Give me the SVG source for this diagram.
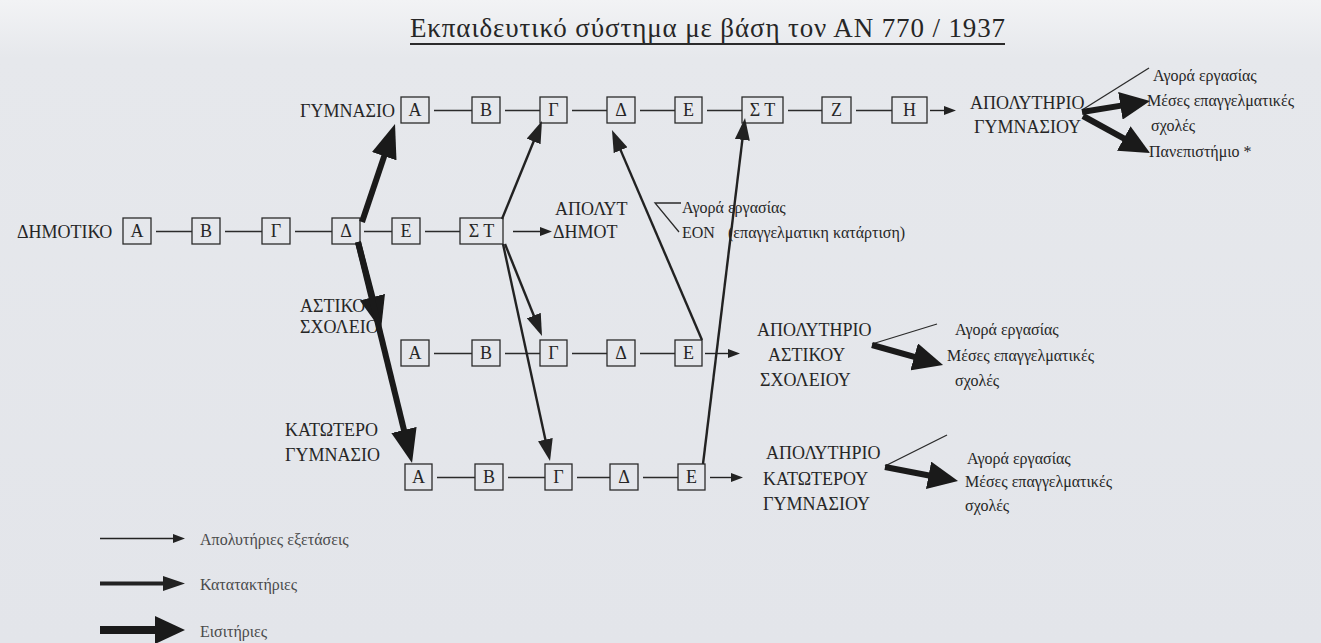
<svg xmlns="http://www.w3.org/2000/svg" width="1321" height="643" viewBox="0 0 1321 643" font-family="Liberation Serif, DejaVu Serif, serif">
<defs>
<style>
text{font-family:"Liberation Serif","DejaVu Serif",serif;fill:#262626}
.lbl{font-size:18px}
.bx{font-size:18px;text-anchor:middle}
.sm{font-size:16px}
.lg{font-size:16px;fill:#4a4a4a}
.title{font-size:27px}
rect.b{fill:none;stroke:#2b2b2b;stroke-width:1.3}
.ln{stroke:#2b2b2b;stroke-width:1.3;fill:none}
.thin{stroke:#222;stroke-width:1.4;fill:none;marker-end:url(#mThin)}
.med{stroke:#222;stroke-width:2.4;fill:none;marker-end:url(#mMed)}
.thick{stroke:#1a1a1a;stroke-width:6;fill:none;marker-end:url(#mThick)}
.fan{stroke:#1a1a1a;stroke-width:6;fill:none;marker-end:url(#mFan)}
</style>
<linearGradient id="bg" x1="0" y1="0" x2="0" y2="1">
<stop offset="0" stop-color="#f2f3f5"/>
<stop offset="0.09" stop-color="#e6e8ec"/>
<stop offset="1" stop-color="#e3e5ea"/>
</linearGradient>
<marker id="mThin" markerUnits="userSpaceOnUse" markerWidth="12" markerHeight="9" refX="6" refY="4.5" orient="auto"><path d="M0,0 L12,4.5 L0,9 z" fill="#222"/></marker>
<marker id="mMed" markerUnits="userSpaceOnUse" markerWidth="22" markerHeight="15" refX="11" refY="7.5" orient="auto"><path d="M0,0 L22,7.5 L0,15 z" fill="#222"/></marker>
<marker id="mThick" markerUnits="userSpaceOnUse" markerWidth="34" markerHeight="26" refX="17" refY="13" orient="auto"><path d="M0,0 L34,13 L0,26 z" fill="#1a1a1a"/></marker>
<marker id="mFan" markerUnits="userSpaceOnUse" markerWidth="30" markerHeight="28" refX="15" refY="14" orient="auto"><path d="M0,0 L30,14 L0,28 z" fill="#1a1a1a"/></marker>
</defs>
<rect width="1321" height="643" fill="url(#bg)"/>

<g id="title">
<text class="title" x="410" y="37" textLength="595" lengthAdjust="spacing">Εκπαιδευτικό σύστημα με βάση τον ΑΝ 770 / 1937</text>
<path class="ln" d="M410,44 H1005" style="stroke-width:2"/>
</g>

<g id="row-gymnasio">
<text class="lbl" x="300" y="117">ΓΥΜΝΑΣΙΟ</text>
<rect class="b" x="401" y="97" width="28" height="26"/><text class="bx" x="415" y="116">Α</text>
<rect class="b" x="472" y="97" width="28" height="26"/><text class="bx" x="486" y="116">Β</text>
<rect class="b" x="540" y="97" width="27" height="26"/><text class="bx" x="553.5" y="116">Γ</text>
<rect class="b" x="607" y="97" width="28" height="26"/><text class="bx" x="621" y="116">Δ</text>
<rect class="b" x="675" y="97" width="27" height="26"/><text class="bx" x="688.5" y="116">Ε</text>
<rect class="b" x="742" y="97" width="41" height="26"/><text class="bx" x="762.5" y="116">Σ Τ</text>
<rect class="b" x="822" y="97" width="29" height="26"/><text class="bx" x="836.5" y="116">Ζ</text>
<rect class="b" x="892" y="97" width="35" height="26"/><text class="bx" x="909.5" y="116">Η</text>
</g>
<g id="apol-gymnasiou">
<text class="lbl" x="970" y="109">ΑΠΟΛΥΤΗΡΙΟ</text>
<text class="lbl" x="974" y="133">ΓΥΜΝΑΣΙΟΥ</text>
<text class="sm" x="1153" y="81">Αγορά εργασίας</text>
<text class="sm" x="1147" y="106">Μέσες επαγγελματικές</text>
<text class="sm" x="1151" y="131">σχολές</text>
<text class="sm" x="1149" y="157">Πανεπιστήμιο *</text>
</g>

<g id="row-dimotiko">
<text class="lbl" x="17" y="238">ΔΗΜΟΤΙΚΟ</text>
<rect class="b" x="123" y="218" width="28" height="26"/><text class="bx" x="137" y="237">Α</text>
<rect class="b" x="192" y="218" width="28" height="26"/><text class="bx" x="206" y="237">Β</text>
<rect class="b" x="262" y="218" width="28" height="26"/><text class="bx" x="276" y="237">Γ</text>
<rect class="b" x="332" y="218" width="28" height="26"/><text class="bx" x="346" y="237">Δ</text>
<rect class="b" x="392" y="218" width="28" height="26"/><text class="bx" x="406" y="237">Ε</text>
<rect class="b" x="460" y="218" width="43" height="26"/><text class="bx" x="481.5" y="237">Σ Τ</text>
</g>
<g id="apol-dimot">
<text class="lbl" x="555" y="215">ΑΠΟΛΥΤ</text>
<text class="lbl" x="553" y="238">ΔΗΜΟΤ</text>
<path class="ln" d="M681,203 L655,203 L679,232"/>
<text class="sm" x="682" y="213">Αγορά εργασίας</text>
<text class="sm" x="682" y="238">ΕΟΝ</text>
<text class="sm" x="728" y="238">(επαγγελματικη κατάρτιση)</text>
</g>

<g id="row-astiko">
<text class="lbl" x="300" y="312">ΑΣΤΙΚΟ</text>
<text class="lbl" x="300" y="333">ΣΧΟΛΕΙΟ</text>
<rect class="b" x="401" y="340" width="28" height="26"/><text class="bx" x="415" y="359">Α</text>
<rect class="b" x="472" y="340" width="28" height="26"/><text class="bx" x="486" y="359">Β</text>
<rect class="b" x="540" y="340" width="27" height="26"/><text class="bx" x="553.5" y="359">Γ</text>
<rect class="b" x="607" y="340" width="28" height="26"/><text class="bx" x="621" y="359">Δ</text>
<rect class="b" x="675" y="340" width="27" height="26"/><text class="bx" x="688.5" y="359">Ε</text>
</g>
<g id="apol-astikou">
<text class="lbl" x="757" y="336">ΑΠΟΛΥΤΗΡΙΟ</text>
<text class="lbl" x="768" y="361">ΑΣΤΙΚΟΥ</text>
<text class="lbl" x="760" y="386">ΣΧΟΛΕΙΟΥ</text>
<text class="sm" x="955" y="335">Αγορά εργασίας</text>
<text class="sm" x="947" y="361">Μέσες επαγγελματικές</text>
<text class="sm" x="955" y="386">σχολές</text>
</g>

<g id="row-katotero">
<text class="lbl" x="285" y="436">ΚΑΤΩΤΕΡΟ</text>
<text class="lbl" x="285" y="461">ΓΥΜΝΑΣΙΟ</text>
<rect class="b" x="405" y="464" width="27" height="26"/><text class="bx" x="418.5" y="483">Α</text>
<rect class="b" x="475" y="464" width="28" height="26"/><text class="bx" x="489" y="483">Β</text>
<rect class="b" x="545" y="464" width="27" height="26"/><text class="bx" x="558.5" y="483">Γ</text>
<rect class="b" x="610" y="464" width="28" height="26"/><text class="bx" x="624" y="483">Δ</text>
<rect class="b" x="678" y="464" width="27" height="26"/><text class="bx" x="691.5" y="483">Ε</text>
</g>
<g id="apol-katoterou">
<text class="lbl" x="766" y="459">ΑΠΟΛΥΤΗΡΙΟ</text>
<text class="lbl" x="763" y="485">ΚΑΤΩΤΕΡΟΥ</text>
<text class="lbl" x="763" y="510">ΓΥΜΝΑΣΙΟΥ</text>
<text class="sm" x="967" y="464">Αγορά εργασίας</text>
<text class="sm" x="965" y="487">Μέσες επαγγελματικές</text>
<text class="sm" x="965" y="511">σχολές</text>
</g>

<g id="connectors">
<path class="ln" d="M434,110.5 H472 M505,110.5 H540 M572,110.5 H607 M640,110.5 H675 M707,110.5 H742 M788,110.5 H822 M856,110.5 H892"/>
<path class="ln" d="M156,231.5 H192 M225,231.5 H262 M295,231.5 H332 M364,231.5 H392 M425,231.5 H460"/>
<path class="ln" d="M434,353.5 H472 M505,353.5 H540 M572,353.5 H607 M640,353.5 H675"/>
<path class="ln" d="M437,477.5 H475 M508,477.5 H545 M577,477.5 H610 M643,477.5 H678"/>
<path class="thin" d="M930,110.5 H950"/>
<path class="thin" d="M513,231.5 H546"/>
<path class="thin" d="M705,353.5 H734"/>
<path class="thin" d="M710,477.5 H737"/>
<path class="ln" d="M1082,110 L1149,68"/>
<path class="fan" d="M1082,112 L1135.2,103.4"/>
<path class="fan" d="M1083,116 L1136.9,145.7"/>
<path class="ln" d="M872,344 L937,324"/>
<path class="fan" d="M872,345 L928.6,360.9"/>
<path class="ln" d="M885,466 L947,435"/>
<path class="fan" d="M885,467 L943.3,478.2"/>
<path class="thick" d="M362,222 L389.6,140.1"/>
<path class="thick" d="M358,242 L376.7,313.6"/>
<path class="thick" d="M358,242 L408,446.5"/>
<path class="med" d="M502,219 L537.8,131.2"/>
<path class="med" d="M505,244 L537.9,325.8"/>
<path class="med" d="M503,244 L547.7,450.3"/>
<path class="med" d="M702,340 L616.3,140.1"/>
<path class="med" d="M703,464 L743.7,128.9"/>
</g>

<g id="legend">
<path class="thin" d="M100,538.5 H179"/>
<text class="lg" x="200" y="545">Απολυτήριες εξετάσεις</text>
<path class="med" d="M100,583.5 H174" style="stroke-width:4"/>
<text class="lg" x="200" y="590">Κατατακτήριες</text>
<path class="fan" d="M100,630 H170" style="stroke-width:8"/>
<text class="lg" x="200" y="637">Εισιτήριες</text>
</g>
</svg>
